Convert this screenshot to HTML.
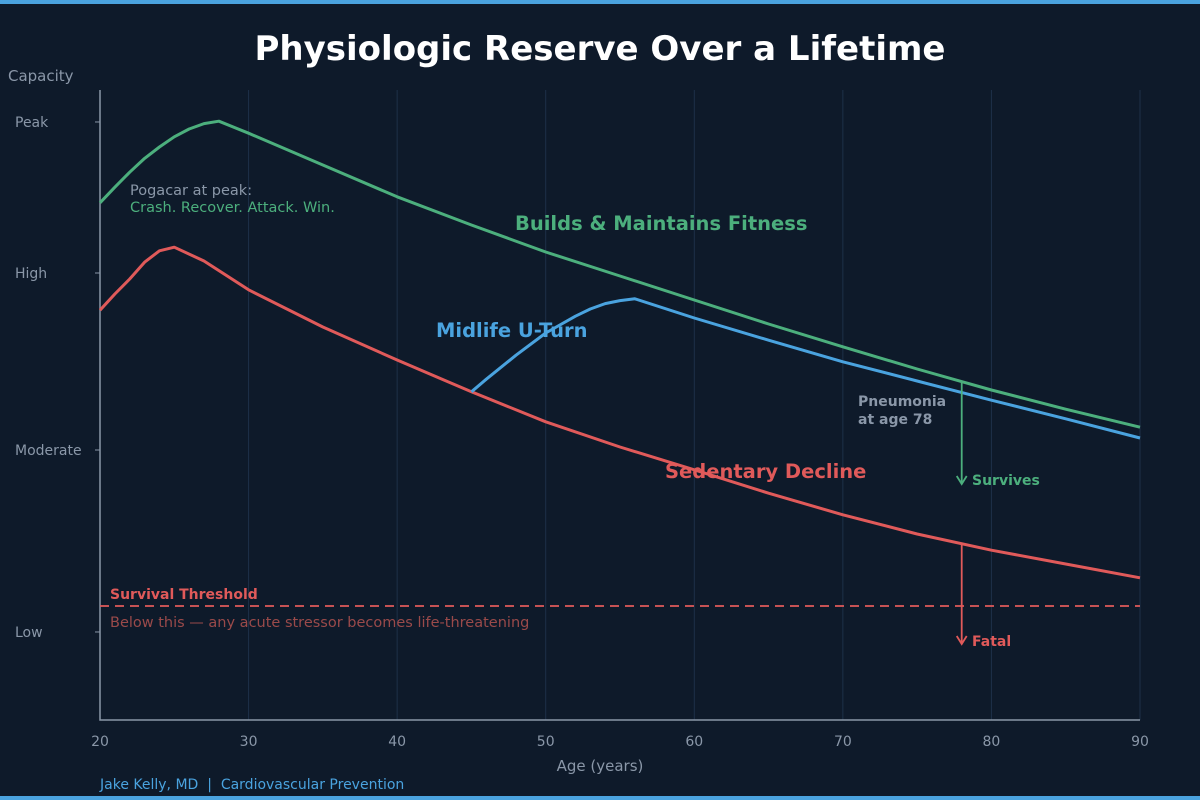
<!DOCTYPE html>
<html><head><meta charset="utf-8"><style>
body{margin:0;background:#0e1a2a;}
svg{display:block;font-family:"DejaVu Sans","Liberation Sans",sans-serif;}
text{white-space:pre;}
</style></head><body>
<svg id="c" width="1200" height="800" viewBox="0 0 1200 800">
<rect width="1200" height="800" fill="#0e1a2a"/>
<rect width="1200" height="4" fill="#4aa3df"/>
<rect y="796" width="1200" height="4" fill="#4aa3df"/>
<text x="600" y="60" text-anchor="middle" fill="#fff" font-size="34" font-weight="bold">Physiologic Reserve Over a Lifetime</text>
<text x="8" y="81" fill="#8a97a8" font-size="15">Capacity</text>
<text x="600" y="771" text-anchor="middle" fill="#8a97a8" font-size="15">Age (years)</text>
<text x="100" y="789" fill="#4aa3df" font-size="14" xml:space="preserve">Jake Kelly, MD  |  Cardiovascular Prevention</text>
<g id="grid"></g><g id="axes"></g><g id="series"></g><g id="ann"></g>
</svg>
<script>
const xTicks=[20,30,40,50,60,70,80,90];
const yTickLabels=["Peak","High","Moderate","Low"];
const yTickValues=[99.67,74.5,45,14.67];
const greenAges=[20,21,22,23,24,25,26,27,28,30,35,40,45,50,55,60,65,70,75,80,85,90];
const greenVals=[86.2,88.8,91.3,93.6,95.5,97.2,98.5,99.4,99.8,97.8,92.5,87.2,82.5,78,74,70,66,62.2,58.5,55,51.8,48.8];
const redAges=[20,21,22,23,24,25,27,30,35,40,45,50,55,60,65,70,75,80,85,90];
const redVals=[68.3,71,73.5,76.3,78.2,78.8,76.5,71.7,65.5,60,54.7,49.7,45.5,41.7,37.8,34.2,31,28.3,26,23.7];
const blueAges=[45,46,48,50,52,53,54,55,56,60,65,70,75,80,85,90];
const blueVals=[54.7,56.8,60.8,64.5,67.3,68.5,69.4,69.9,70.2,67,63.3,59.7,56.5,53.3,50.2,47];
const threshold=19;
const x=a=>100+(a-20)*(1040/70);
const y=v=>720-v*6;
const NS="http://www.w3.org/2000/svg";
function mk(parent,tag,attrs,text){const e=document.createElementNS(NS,tag);for(const k in attrs)e.setAttribute(k,attrs[k]);if(text!==undefined)e.textContent=text;document.getElementById(parent).appendChild(e);return e;}
xTicks.forEach(t=>{
 if(t>20){const g=mk('grid','line',{x1:x(t),x2:x(t),y1:90,y2:720,stroke:'#1d3048','stroke-width':1});
 
 }
 const l=mk('axes','text',{x:x(t),y:746,'text-anchor':'middle',fill:'#8a97a8','font-size':14},t);
 
 
});
yTickValues.forEach((v,i)=>{
 mk('axes','line',{x1:95,x2:100,y1:y(v),y2:y(v),stroke:'#8a97a8'});
 const l=mk('axes','text',{x:15,y:y(v)+5,fill:'#8a97a8','font-size':14},yTickLabels[i]);
 
 
});
const ax=mk('axes','path',{d:'M100 90V720H1140',fill:'none',stroke:'#8a97a8','stroke-width':1.5});


function line(ages,vals,col,name){
 const p=mk('series','polyline',{points:ages.map((a,i)=>x(a)+','+y(vals[i])).join(' '),fill:'none',stroke:col,'stroke-width':3,'stroke-linejoin':'round'});
 
 
}
const th=mk('series','line',{x1:100,x2:1140,y1:y(threshold),y2:y(threshold),stroke:'#e05a5a','stroke-width':1.8,'stroke-dasharray':'9,6'});


line(greenAges,greenVals,'#4caf7d','fitness-line');
line(redAges,redVals,'#e05a5a','sedentary-line');
line(blueAges,blueVals,'#4aa3df','midlife-u-turn-line');
function txt(xx,yy,s,col,fs,fw,name){const t=mk('ann','text',{x:xx,y:yy,fill:col,'font-size':fs,'font-weight':fw},s);
 
 }
txt(130,195,'Pogacar at peak:','#8a97a8',14.5,'normal','pogacar-note');
txt(130,212,'Crash. Recover. Attack. Win.','#4caf7d',14.5,'normal','pogacar-note-2');
txt(515,230,'Builds & Maintains Fitness','#4caf7d',19.5,'bold','fitness-label');
txt(436,337,'Midlife U-Turn','#4aa3df',19.5,'bold','midlife-label');
txt(665,478,'Sedentary Decline','#e05a5a',19.5,'bold','sedentary-label');
txt(858,406,'Pneumonia','#8a97a8',14,'bold','pneumonia-label');
txt(858,424,'at age 78','#8a97a8',14,'bold','pneumonia-label-2');
txt(110,599,'Survival Threshold','#e05a5a',14,'bold','threshold-label');
txt(110,627,'Below this — any acute stressor becomes life-threatening','#9a4a4a',14.5,'normal','threshold-note');
txt(972,485,'Survives','#4caf7d',14,'bold','survives-label');
txt(972,646,'Fatal','#e05a5a',14,'bold','fatal-label');
function arrow(a,v1,yEnd,col,name){const xx=x(a);
 const p=mk('ann','path',{d:`M${xx} ${y(v1)}V${yEnd}M${xx-5} ${yEnd-8}L${xx} ${yEnd}L${xx+5} ${yEnd-8}`,fill:'none',stroke:col,'stroke-width':1.8});
 
 }
arrow(78,56.3,484,'#4caf7d','survives-arrow');
arrow(78,29.5,644,'#e05a5a','fatal-arrow');
</script>
</body></html>
